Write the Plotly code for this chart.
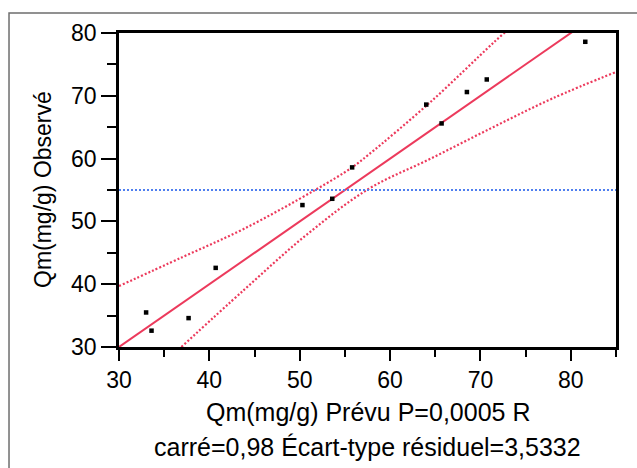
import plotly.graph_objects as go

# Observed vs predicted points
pred = [33.0, 33.6, 37.7, 40.7, 50.3, 53.6, 55.8, 64.0, 65.7, 68.5, 70.7, 81.6]
obs = [35.5, 32.6, 34.6, 42.6, 52.6, 53.6, 58.6, 68.6, 65.6, 70.6, 72.6, 78.6]

# Fit line (y = x)
fit_x = [30, 85]
fit_y = [30, 85]

# Confidence curves
upper_x = [30, 37, 43.8, 51.7, 55.8, 57.6, 64.5, 71.4, 74]
upper_y = [39.7, 44.3, 48.8, 55.0, 58.6, 60.6, 69.05, 78.4, 81.8]
lower_x = [36.9, 43.8, 50.7, 57.6, 64.5, 71.4, 78.0, 85]
lower_y = [30.0, 39.05, 47.8, 55.15, 60.0, 65.0, 69.6, 73.8]

mean_y = 55

x_ticks = [30, 40, 50, 60, 70, 80]
y_ticks = [30, 40, 50, 60, 70, 80]

RED = "#EC3A5C"
BLUE = "#4F7FEF"
FONT = "Liberation Sans, Arial, sans-serif"

fig = go.Figure()

fig.add_trace(go.Scatter(x=upper_x, y=upper_y, mode="lines",
                         line=dict(color=RED, width=2.2, dash="2px,2px", shape="spline")))
fig.add_trace(go.Scatter(x=lower_x, y=lower_y, mode="lines",
                         line=dict(color=RED, width=2.2, dash="2px,2px", shape="spline")))
fig.add_trace(go.Scatter(x=fit_x, y=fit_y, mode="lines",
                         line=dict(color=RED, width=2)))
fig.add_trace(go.Scatter(x=[30, 85], y=[mean_y, mean_y], mode="lines",
                         line=dict(color=BLUE, width=2.2, dash="2px,2px")))
fig.add_trace(go.Scatter(x=pred, y=obs, mode="markers",
                         marker=dict(symbol="square", size=4.5, color="black")))

# outer frame
fig.add_shape(type="rect", xref="paper", yref="paper",
              x0=-0.2213, x1=1.3, y0=-0.7, y1=1.0637,
              line=dict(color="#6E6E6E", width=1.5), layer="below")

fig.add_annotation(x=0.5, y=-0.207, xref="paper", yref="paper", showarrow=False,
                   text="Qm(mg/g) Prévu P=0,0005 R", yanchor="middle",
                   font=dict(size=25, color="black", family=FONT))
fig.add_annotation(x=0.5, y=-0.318, xref="paper", yref="paper", showarrow=False,
                   text="carré=0,98 Écart-type résiduel=3,5332", yanchor="middle",
                   font=dict(size=25, color="black", family=FONT))
fig.add_annotation(x=-0.1529, y=0.5, xref="paper", yref="paper", showarrow=False,
                   text="Qm(mg/g) Observé", textangle=-90, xanchor="center", yanchor="middle",
                   font=dict(size=23, color="black", family=FONT))

fig.update_xaxes(range=[30, 85], tickvals=x_ticks, ticktext=[str(v) for v in x_ticks],
                 ticks="outside", ticklen=11, tickwidth=2, tickcolor="black",
                 showline=True, linewidth=2.5, linecolor="black", mirror=True,
                 showgrid=False, zeroline=False,
                 tickfont=dict(size=23, color="black", family=FONT),
                 minor=dict(tickvals=[35, 45, 55, 65, 75, 85], ticks="outside", ticklen=7,
                            tickwidth=2, tickcolor="black", showgrid=False))
fig.update_yaxes(range=[30, 80], tickvals=y_ticks, ticktext=[str(v) for v in y_ticks],
                 ticks="outside", ticklen=15, tickwidth=2, tickcolor="black",
                 showline=True, linewidth=2.5, linecolor="black", mirror=True,
                 showgrid=False, zeroline=False,
                 tickfont=dict(size=23, color="black", family=FONT),
                 minor=dict(tickvals=[35, 45, 55, 65, 75], ticks="outside", ticklen=9,
                            tickwidth=2, tickcolor="black", showgrid=False))

fig.update_layout(width=637, height=468, showlegend=False,
                  margin=dict(l=119, r=21, t=33, b=121),
                  plot_bgcolor="white", paper_bgcolor="white",
                  font=dict(family=FONT, color="black"))

fig.write_html("out.html", config={"displayModeBar": False},
               post_script="document.body.style.margin='0';document.body.style.overflow='hidden';")
